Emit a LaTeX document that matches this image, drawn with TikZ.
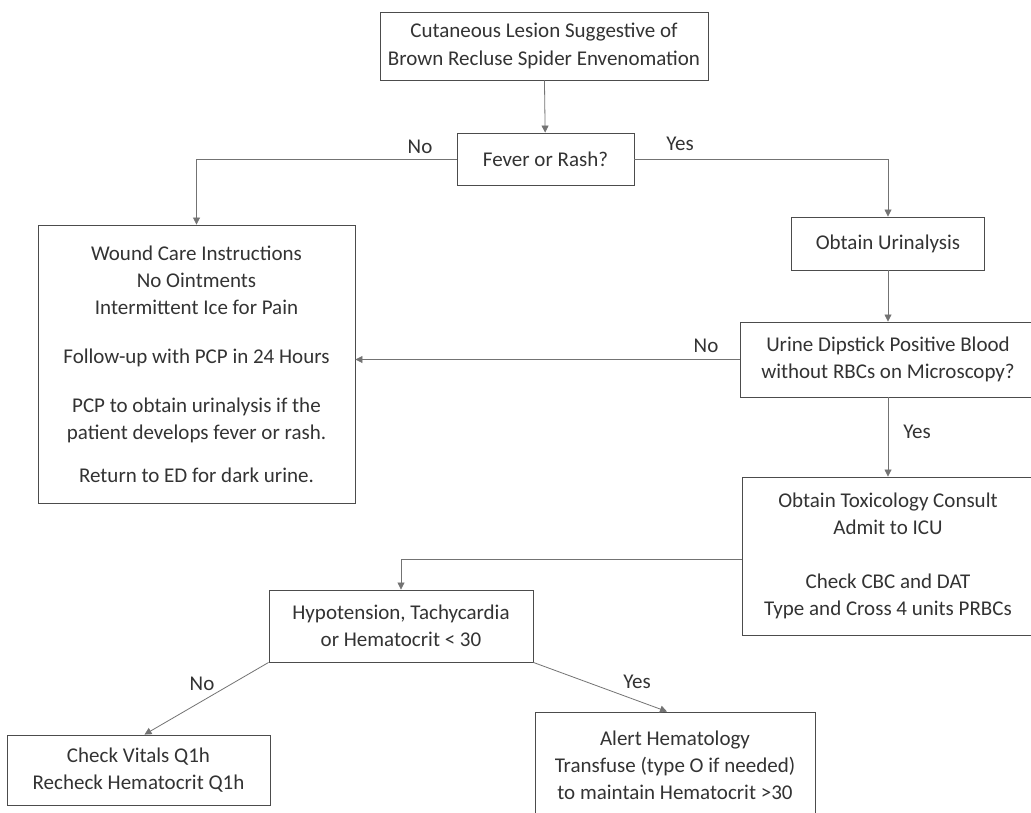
\documentclass[tikz,border=0pt]{standalone}
\usepackage{fontspec}
\setmainfont{Carlito}
\usetikzlibrary{arrows.meta}
\begin{document}
\begin{tikzpicture}[x=1pt,y=-1pt,
  box/.style={draw=black!70, line width=0.9pt, inner sep=0pt, align=center,
    text=black!80, font=\fontsize{21}{27}\selectfont},
  conn/.style={draw=black!45, line width=0.8pt},
  arr/.style={conn, -{Triangle[length=7pt,width=7pt]}, black!55},
  lbl/.style={text=black!80, font=\fontsize{21}{25}\selectfont, inner sep=0pt}]
\clip (0,0) rectangle (1031,812);
\fill[white] (0,0) rectangle (1031,812);

\node[box, minimum width=328pt, minimum height=68pt] (top) at (544,46)
  {Cutaneous Lesion Suggestive of\\[1pt]Brown Recluse Spider Envenomation};
\node[box, minimum width=177pt, minimum height=52pt] (fever) at (545.5,159)
  {Fever or Rash?};
\node[box, minimum width=317pt, minimum height=278pt] (wound) at (196.5,364)
  {Wound Care Instructions\\No Ointments\\Intermittent Ice for Pain\\[22pt]
   Follow-up with PCP in 24 Hours\\[22pt]
   PCP to obtain urinalysis if the\\patient develops fever or rash.\\[16pt]
   Return to ED for dark urine.};
\node[box, minimum width=193pt, minimum height=53pt] (urin) at (888,243.5)
  {Obtain Urinalysis};
\node[box, minimum width=296pt, minimum height=75pt] (dip) at (888,359.5)
  {Urine Dipstick Positive Blood\\without RBCs on Microscopy?};
\node[box, minimum width=292pt, minimum height=158pt] (tox) at (888,556)
  {Obtain Toxicology Consult\\Admit to ICU\\[27pt]
   Check CBC and DAT\\Type and Cross 4 units PRBCs};
\node[box, minimum width=264pt, minimum height=72pt] (hypo) at (401,626)
  {Hypotension, Tachycardia\\or Hematocrit {\char`\<} 30};
\node[box, minimum width=263pt, minimum height=70pt] (check) at (138.5,770)
  {Check Vitals Q1h\\Recheck Hematocrit Q1h};
\node[box, minimum width=280pt, minimum height=106pt] (alert) at (675,765)
  {Alert Hematology\\Transfuse (type O if needed)\\to maintain Hematocrit {\char`\>}30};

\draw[arr] (top) -- (fever);
\draw[arr] (fever.west) -| (wound.north);
\draw[arr] (fever.east) -| (urin.north);
\draw[arr] (urin) -- (dip);
\draw[arr] (dip.west) -- (dip.west -| wound.east);
\draw[arr] (dip) -- (tox);
\draw[arr] ([yshift=-3pt]tox.west) -| (hypo.north);
\draw[arr] (hypo.south west) -- ([xshift=6pt]check.north);
\draw[arr] (hypo.south east) -- ([xshift=-8pt]alert.north);

\node[lbl] (l1) at (420,147) {No};
\node[lbl] (l2) at (680,144) {Yes};
\node[lbl] (l3) at (706,346) {No};
\node[lbl] (l4) at (917,432) {Yes};
\node[lbl] (l5) at (202,684) {No};
\node[lbl] (l6) at (637,682) {Yes};
\end{tikzpicture}
\end{document}
